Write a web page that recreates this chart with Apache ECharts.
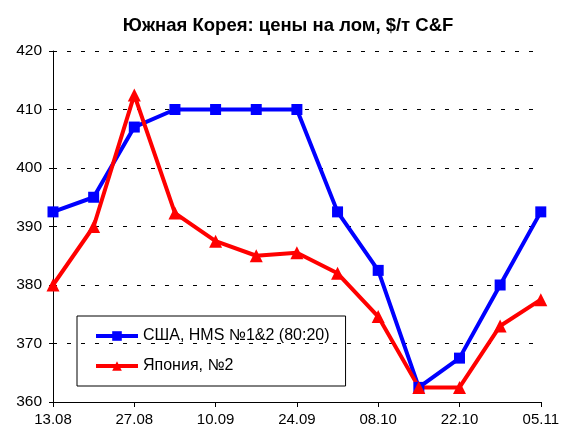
<!DOCTYPE html>
<html>
<head>
<meta charset="utf-8">
<script src="https://cdn.jsdelivr.net/npm/echarts@6/dist/echarts.min.js"></script>
<style>
  html, body { margin: 0; padding: 0; background: #fff; }
  #chart { width: 562px; height: 430px; }
</style>
</head>
<body>
<div id="chart"></div>
<script>
const dates = ['13.08', '20.08', '27.08', '03.09', '10.09', '17.09', '24.09',
               '01.10', '08.10', '15.10', '22.10', '29.10', '05.11'];
const usaHms = [392.5, 395, 407, 410, 410, 410, 410, 392.5, 382.5, 362.5, 367.5, 380, 392.5];
const japanNo2 = [380, 390, 412.5, 392.3, 387.5, 385, 385.5, 382, 374.6, 362.5, 362.5, 373, 377.5];

var chart = echarts.init(document.getElementById('chart'));
var font = '"Liberation Sans", Arial, sans-serif';

var option = {
    animation: false,
    backgroundColor: '#fff',
    title: {
        text: 'Южная Корея: цены на лом, $/т C&F',
        left: 283,
        textAlign: 'center',
        top: 11,
        textStyle: { fontFamily: font, fontSize: 18.5, fontWeight: 'bold', color: '#000' }
    },
    grid: { left: 53, right: 21, top: 51, bottom: 28 },
    legend: {
        orient: 'vertical',
        left: 77,
        top: 316,
        padding: [12, 16, 12, 17],
        itemGap: 14,
        itemWidth: 42,
        itemHeight: 12,
        borderColor: '#000',
        borderWidth: 1,
        lineStyle: { width: 4 },
        textStyle: { fontFamily: font, fontSize: 16, color: '#000' },
        data: ['США, HMS №1&2 (80:20)', 'Япония, №2']
    },
    xAxis: {
        type: 'category',
        data: dates,
        boundaryGap: false,
        axisLine: { lineStyle: { color: '#000', width: 1 } },
        axisTick: { interval: 1, length: 5, lineStyle: { color: '#000' } },
        axisLabel: { interval: 1, color: '#000', fontFamily: font, fontSize: 15, margin: 10 }
    },
    yAxis: {
        type: 'value',
        min: 360,
        max: 420,
        interval: 10,
        axisLine: { show: true, lineStyle: { color: '#000', width: 1 } },
        axisTick: { show: true, length: 4, lineStyle: { color: '#000' } },
        axisLabel: { color: '#000', fontFamily: font, fontSize: 15.5, margin: 11 },
        splitLine: { lineStyle: { color: '#000', type: [4, 10], width: 1 } }
    },
    series: [
        {
            name: 'США, HMS №1&2 (80:20)',
            type: 'line',
            data: usaHms,
            symbol: 'rect',
            symbolSize: 11,
            lineStyle: { color: '#0000ff', width: 4 },
            itemStyle: { color: '#0000ff' }
        },
        {
            name: 'Япония, №2',
            type: 'line',
            data: japanNo2,
            symbol: 'triangle',
            symbolSize: 13,
            lineStyle: { color: '#ff0000', width: 4 },
            itemStyle: { color: '#ff0000' }
        }
    ]
};

chart.setOption(option);
</script>
</body>
</html>
